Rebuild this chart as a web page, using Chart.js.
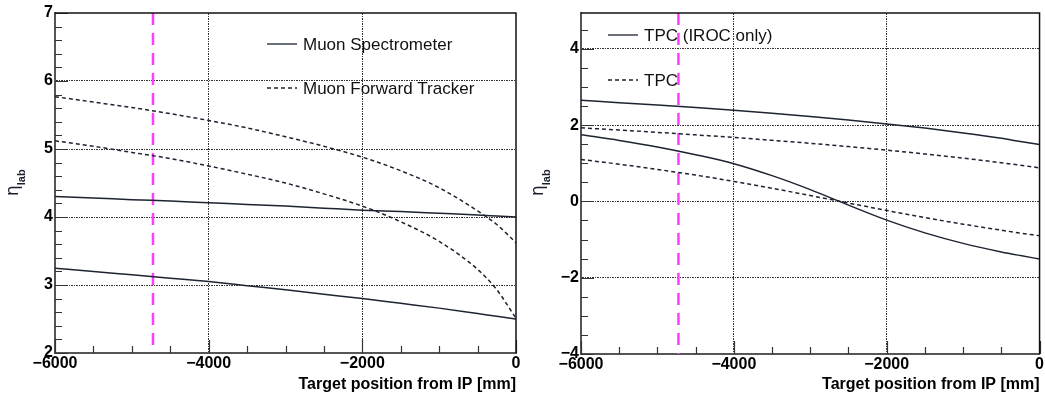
<!DOCTYPE html>
<html>
<head>
<meta charset="utf-8">
<script src="https://cdn.jsdelivr.net/npm/chart.js@4"></script>
<style>
body { margin: 0; background: #fff; }
.panel { position: absolute; top: 0; }
</style>
</head>
<body>
<canvas id="left" class="panel" style="left:0px" width="525" height="394"></canvas>
<canvas id="right" class="panel" style="left:525px" width="520" height="394"></canvas>
<script>
// target position from IP [mm]
var zPos = [-6000, -5500, -5000, -4500, -4000, -3500, -3000, -2500, -2000, -1500, -1000, -500, -250, 0];
var targetPos = -4725;

// left: muon arm acceptance (eta_lab)
var msOuter = [4.30, 4.28, 4.255, 4.235, 4.21, 4.185, 4.16, 4.13, 4.10, 4.08, 4.055, 4.03, 4.015, 4.00];
var msInner = [3.245, 3.20, 3.15, 3.10, 3.05, 2.99, 2.93, 2.865, 2.80, 2.73, 2.66, 2.58, 2.54, 2.50];
var mftOuter = [5.77, 5.69, 5.61, 5.52, 5.42, 5.31, 5.18, 5.04, 4.88, 4.68, 4.43, 4.09, 3.89, 3.62];
var mftInner = [5.12, 5.04, 4.95, 4.86, 4.75, 4.63, 4.50, 4.34, 4.16, 3.93, 3.64, 3.23, 2.93, 2.51];

// right: TPC acceptance (eta_lab)
var irocUpper = [2.65, 2.59, 2.527, 2.46, 2.39, 2.31, 2.225, 2.134, 2.032, 1.922, 1.796, 1.655, 1.57, 1.49];
var irocLower = [1.75, 1.60, 1.428, 1.224, 0.99, 0.676, 0.31, -0.097, -0.49, -0.825, -1.10, -1.324, -1.42, -1.51];
var tpcUpper = [1.93, 1.871, 1.81, 1.745, 1.676, 1.602, 1.523, 1.437, 1.345, 1.244, 1.135, 1.013, 0.95, 0.88];
var tpcLower = [1.10, 0.976, 0.84, 0.69, 0.525, 0.345, 0.154, -0.042, -0.237, -0.423, -0.596, -0.755, -0.83, -0.90];

var leftYRange = [2, 7];
var rightYRange = [-4, 4.94];

var lineColor = '#1d2330';
var gridColor = '#333';
var fontName = '"Liberation Sans", Arial, Helvetica, sans-serif';

function pts(ys) {
    var out = [];
    for (var i = 0; i < zPos.length; i++) out.push({ x: zPos[i], y: ys[i] });
    return out;
}

function curve(ys, dashed) {
    return {
        data: pts(ys),
        borderColor: lineColor,
        borderWidth: 1.5,
        borderDash: dashed ? [4, 3] : [],
        pointRadius: 0,
        cubicInterpolationMode: 'monotone',
        fill: false
    };
}

function targetLine(yr) {
    return {
        data: [{ x: targetPos, y: yr[1] }, { x: targetPos, y: yr[0] }],
        borderColor: '#ff3cff',
        borderWidth: 2.5,
        borderDash: [12, 8],
        pointRadius: 0,
        fill: false
    };
}

function minusSign(v) {
    return String(v).replace('-', '\u2212');
}

function gridCol(c) {
    var v = c.tick ? c.tick.value : null;
    if (v === c.scale.min || v === c.scale.max) return 'rgba(0,0,0,0)';
    return gridColor;
}

// ROOT-like frame: inner ticks, top/right border, legend, eta_lab title
var rootFrame = {
    id: 'rootFrame',
    afterDatasetsDraw: function (chart, args, o) {
        var ctx = chart.ctx, a = chart.chartArea, xs = chart.scales.x, ys = chart.scales.y;
        ctx.save();
        ctx.strokeStyle = '#333';
        ctx.lineWidth = 1.2;
        ctx.beginPath();
        var n = Math.round((ys.max - ys.min) / o.yMinor);
        for (var i = 0; i <= n + 1; i++) {
            var v = ys.min + i * o.yMinor;
            if (v > ys.max + 1e-9) break;
            var py = Math.round(ys.getPixelForValue(v)) + 0.5;
            var r = v / o.yMajor;
            var major = Math.abs(r - Math.round(r)) < 1e-6;
            ctx.moveTo(a.left, py);
            ctx.lineTo(a.left + (major ? 13 : 7), py);
        }
        for (var x = xs.min; x <= xs.max + 1e-9; x += o.xMinor) {
            var px = Math.round(xs.getPixelForValue(x)) + 0.5;
            var mj = Math.abs(x % o.xMajor) < 1e-6;
            ctx.moveTo(px, a.bottom);
            ctx.lineTo(px, a.bottom - (mj ? 13 : 7));
        }
        ctx.stroke();

        ctx.strokeStyle = '#111';
        ctx.lineWidth = 1.5;
        ctx.beginPath();
        ctx.moveTo(a.left, a.top);
        ctx.lineTo(a.right, a.top);
        ctx.lineTo(a.right, a.bottom);
        ctx.stroke();

        // legend
        ctx.font = '17px ' + fontName;
        ctx.fillStyle = '#111';
        ctx.textBaseline = 'middle';
        ctx.textAlign = 'left';
        for (var k = 0; k < o.legend.length; k++) {
            var it = o.legend[k];
            var ds = chart.data.datasets[it.dataset];
            ctx.strokeStyle = ds.borderColor;
            ctx.lineWidth = 1.3;
            ctx.setLineDash(ds.borderDash || []);
            ctx.beginPath();
            ctx.moveTo(o.legendX, it.y);
            ctx.lineTo(o.legendX + 30, it.y);
            ctx.stroke();
            ctx.setLineDash([]);
            ctx.fillText(it.label, o.legendX + 36, it.y + 1);
        }

        // eta_lab axis title
        ctx.translate(18, 196);
        ctx.rotate(-Math.PI / 2);
        ctx.textBaseline = 'alphabetic';
        ctx.fillStyle = '#1a1f2e';
        ctx.font = '17px "DejaVu Sans", sans-serif';
        ctx.fillText('\u03b7', 0, 0);
        var w = ctx.measureText('\u03b7').width;
        ctx.font = 'bold 11px ' + fontName;
        ctx.fillText('lab', w, 7);
        ctx.restore();
    }
};

function makeChart(id, sets, yr, yStep, yWidth, xHeight, padRight, frame) {
    return new Chart(id, {
        type: 'line',
        data: { datasets: sets },
        plugins: [rootFrame],
        options: {
            responsive: false,
            animation: false,
            layout: { padding: { top: 13, right: padRight, left: 0, bottom: 0 } },
            plugins: { legend: { display: false }, tooltip: { enabled: false }, rootFrame: frame },
            scales: {
                x: {
                    type: 'linear',
                    min: -6000,
                    max: 0,
                    afterFit: function (s) { s.height = xHeight; },
                    ticks: {
                        stepSize: 2000,
                        maxRotation: 0,
                        autoSkip: false,
                        padding: 1,
                        color: '#000',
                        font: { family: fontName, size: 16, weight: 'bold' },
                        callback: minusSign
                    },
                    grid: { drawTicks: false, color: gridCol, lineWidth: 1 },
                    border: { display: true, color: '#555', width: 2, dash: [2, 1, 1, 1] },
                    title: {
                        display: true,
                        text: 'Target position from IP [mm]',
                        align: 'end',
                        color: '#000',
                        padding: 0,
                        font: { family: fontName, size: 16, weight: 'bold' }
                    }
                },
                y: {
                    min: yr[0],
                    max: yr[1],
                    afterFit: function (s) { s.width = yWidth; },
                    ticks: {
                        stepSize: yStep,
                        includeBounds: false,
                        padding: 2,
                        color: '#000',
                        font: { family: fontName, size: 16, weight: 'bold' },
                        callback: minusSign
                    },
                    grid: { drawTicks: false, color: gridCol, lineWidth: 1 },
                    border: { display: true, color: '#555', width: 2, dash: [2, 1, 1, 1] }
                }
            }
        }
    });
}

makeChart('left', [
    curve(msOuter, false),
    curve(msInner, false),
    curve(mftOuter, true),
    curve(mftInner, true),
    targetLine(leftYRange)
], leftYRange, 1, 55, 41, 9, {
    yMinor: 0.2, yMajor: 1, xMinor: 500, xMajor: 2000, legendX: 267,
    legend: [
        { dataset: 0, label: 'Muon Spectrometer', y: 44 },
        { dataset: 2, label: 'Muon Forward Tracker', y: 88 }
    ]
});

makeChart('right', [
    curve(irocUpper, false),
    curve(irocLower, false),
    curve(tpcUpper, true),
    curve(tpcLower, true),
    targetLine(rightYRange)
], rightYRange, 2, 56, 40, 4, {
    yMinor: 0.5, yMajor: 2, xMinor: 500, xMajor: 2000, legendX: 83,
    legend: [
        { dataset: 0, label: 'TPC (IROC only)', y: 35 },
        { dataset: 2, label: 'TPC', y: 80 }
    ]
});
</script>
</body>
</html>
